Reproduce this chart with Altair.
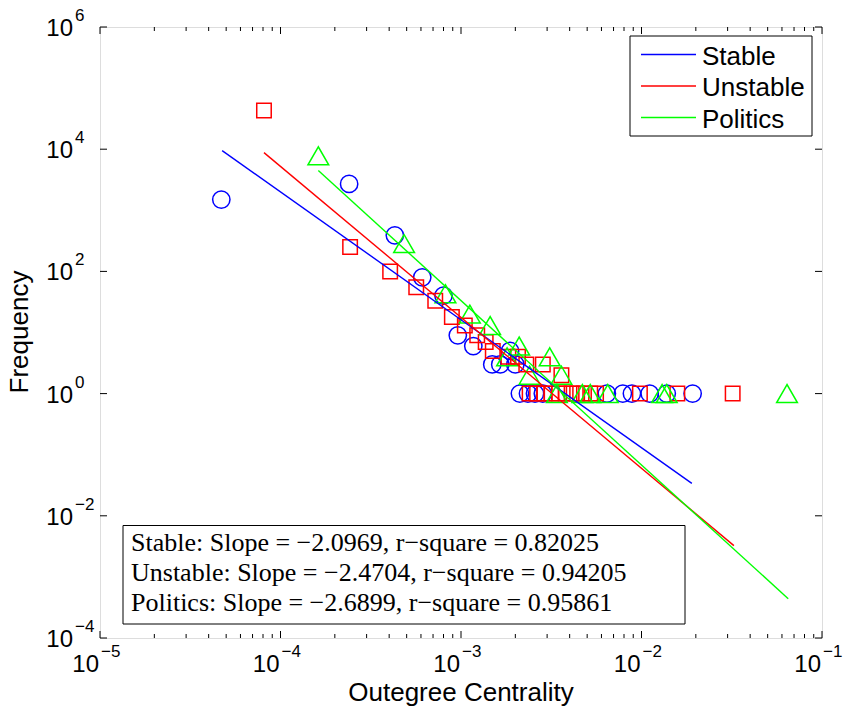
import altair as alt
import pandas as pd

# ---------------- data ----------------
series_names = ["Stable", "Unstable", "Politics"]
series_colors = ["#0000FF", "#FF0000", "#00FF00"]

stable_x = [4.7e-5, 2.4e-4, 4.3e-4, 6.1e-4, 8.0e-4, 9.6e-4, 1.17e-3, 1.49e-3, 1.65e-3,
            1.87e-3, 2.0e-3, 2.12e-3, 2.35e-3, 2.57e-3, 2.84e-3, 6.43e-3, 7.88e-3,
            8.85e-3, 1.11e-2, 1.38e-2, 1.92e-2]
stable_y = [1500, 2700, 390, 80, 40, 9, 6, 3, 3, 5, 3, 1, 1, 1, 1, 1, 1, 1, 1, 1, 1]

unstable_x = [8.1e-5, 2.43e-4, 4.05e-4, 5.65e-4, 7.2e-4, 8.9e-4, 1.05e-3, 1.23e-3, 1.37e-3,
              1.5e-3, 1.83e-3, 2.07e-3, 2.3e-3, 2.84e-3, 3.6e-3,
              2.4e-3, 2.64e-3, 2.9e-3, 3.17e-3, 3.5e-3, 3.8e-3, 4.1e-3, 4.4e-3, 4.8e-3,
              5.2e-3, 5.6e-3, 9.8e-3, 1.58e-2, 3.2e-2]
unstable_y = [43000, 250, 100, 55, 33, 18, 13, 9, 7, 5, 4, 4, 3, 3, 2,
              1, 1, 1, 1, 1, 1, 1, 1, 1, 1, 1, 1, 1, 1]

politics_x = [1.62e-4, 4.84e-4, 8.2e-4, 1.12e-3, 1.45e-3, 1.8e-3, 2.1e-3, 2.4e-3, 3.1e-3,
              3.6e-3, 3.4e-3, 4.7e-3, 5.2e-3, 6.5e-3, 1.3e-2, 1.38e-2, 6.4e-2]
politics_y = [7800, 285, 43, 20, 13, 4, 6, 2, 4, 2, 1, 1, 1, 1, 1, 1, 1]

# fitted power-law lines (end points)
stable_fit_x = [4.75e-5, 1.9e-2]
stable_fit_y = [9500, 0.034]
unstable_fit_x = [8.1e-5, 3.25e-2]
unstable_fit_y = [8800, 0.00325]
politics_fit_x = [1.62e-4, 6.5e-2]
politics_fit_y = [4470, 0.00044]

fit_text = ["Stable: Slope = \u22122.0969, r\u2212square = 0.82025",
            "Unstable: Slope = \u22122.4704, r\u2212square = 0.94205",
            "Politics: Slope = \u22122.6899, r\u2212square = 0.95861"]

x_tick_values = [1e-5, 1e-4, 1e-3, 1e-2, 1e-1]
x_tick_exponents = ["\u22125", "\u22124", "\u22123", "\u22122", "\u22121"]
y_tick_values = [1e-4, 1e-2, 1e0, 1e2, 1e4, 1e6]
y_tick_exponents = ["\u22124", "\u22122", "0", "2", "4", "6"]
minor_mult = [2, 3, 4, 5, 6, 7, 8, 9]

# ---------------- layout ----------------
W, H = 722, 611
SANS = "Liberation Sans"
SERIF = "Liberation Serif"

xs = alt.Scale(type="log", domain=[1e-5, 1e-1], nice=False)
ys = alt.Scale(type="log", domain=[1e-4, 1e6], nice=False)

def X(f="x"):
    return alt.X(f"{f}:Q", scale=xs, axis=None)

def Y(f="y"):
    return alt.Y(f"{f}:Q", scale=ys, axis=None)

layers = []

# scatter points
shapes = ["circle", "square", "triangle-up"]
sizes = [300, 210, 430]
pts = [(stable_x, stable_y), (unstable_x, unstable_y), (politics_x, politics_y)]
for (px, py), shp, sz, col in zip(pts, shapes, sizes, series_colors):
    df = pd.DataFrame({"x": px, "y": py})
    layers.append(
        alt.Chart(df).mark_point(shape=shp, size=sz, filled=False, color=col,
                                 strokeWidth=1.5, opacity=1)
        .encode(x=X(), y=Y())
    )

# fit lines
fits = [(stable_fit_x, stable_fit_y), (unstable_fit_x, unstable_fit_y),
        (politics_fit_x, politics_fit_y)]
for (fx, fy), col in zip(fits, series_colors):
    df = pd.DataFrame({"x": fx, "y": fy})
    layers.append(
        alt.Chart(df).mark_line(color=col, strokeWidth=1.4).encode(x=X(), y=Y())
    )

# ticks (inward, on all four sides)
x_major = pd.DataFrame({"x": x_tick_values})
x_minor = pd.DataFrame({"x": [m * v for v in x_tick_values[:-1] for m in minor_mult]})
y_major = pd.DataFrame({"y": y_tick_values})
for df, ln in [(x_major, 7), (x_minor, 4)]:
    layers.append(alt.Chart(df).mark_rule(color="black", strokeWidth=1)
                  .encode(x=X(), y=alt.value(H), y2=alt.value(H - ln)))
    layers.append(alt.Chart(df).mark_rule(color="black", strokeWidth=1)
                  .encode(x=X(), y=alt.value(0), y2=alt.value(ln)))
layers.append(alt.Chart(y_major).mark_rule(color="black", strokeWidth=1)
              .encode(y=Y(), x=alt.value(0), x2=alt.value(7)))
layers.append(alt.Chart(y_major).mark_rule(color="black", strokeWidth=1)
              .encode(y=Y(), x=alt.value(W), x2=alt.value(W - 7)))

# tick labels: "10" + superscript exponent
xl = pd.DataFrame({"x": x_tick_values, "e": x_tick_exponents})
layers.append(alt.Chart(xl).mark_text(text="10", font=SANS, fontSize=24, align="right",
                                      baseline="alphabetic", dx=-1, color="black")
              .encode(x=X(), y=alt.value(645)))
layers.append(alt.Chart(xl).mark_text(font=SANS, fontSize=17, align="left",
                                      baseline="alphabetic", dx=1, color="black")
              .encode(x=X(), y=alt.value(630), text="e:N"))
yl = pd.DataFrame({"y": y_tick_values, "e": y_tick_exponents})
layers.append(alt.Chart(yl).mark_text(text="10", font=SANS, fontSize=24, align="right",
                                      baseline="alphabetic", dy=9, color="black")
              .encode(y=Y(), x=alt.value(-27)))
layers.append(alt.Chart(yl).mark_text(font=SANS, fontSize=17, align="left",
                                      baseline="alphabetic", dy=-6, color="black")
              .encode(y=Y(), x=alt.value(-25), text="e:N"))

one = pd.DataFrame({"k": [0]})
# axis titles
layers.append(alt.Chart(one).mark_text(text="Outegree Centrality", font=SANS, fontSize=26,
                                       align="center", baseline="alphabetic", color="black")
              .encode(x=alt.value(W / 2), y=alt.value(674)))
layers.append(alt.Chart(one).mark_text(text="Frequency", font=SANS, fontSize=26, angle=270,
                                       align="center", baseline="alphabetic", color="black")
              .encode(x=alt.value(-72), y=alt.value(305)))

# legend box
layers.append(alt.Chart(one).mark_rect(fill="white", stroke="black", strokeWidth=1)
              .encode(x=alt.value(530), x2=alt.value(712), y=alt.value(9), y2=alt.value(109)))
leg_y0, leg_dy = 27.5, 31.5
for i, (nm, col) in enumerate(zip(series_names, series_colors)):
    yy = leg_y0 + i * leg_dy
    layers.append(alt.Chart(one).mark_rule(color=col, strokeWidth=1.4)
                  .encode(x=alt.value(541), x2=alt.value(596), y=alt.value(yy)))
    layers.append(alt.Chart(one).mark_text(text=nm, font=SANS, fontSize=26, align="left",
                                           baseline="alphabetic", color="black")
                  .encode(x=alt.value(602), y=alt.value(yy + 10)))

# fit text box
layers.append(alt.Chart(one).mark_rect(fill="white", stroke="black", strokeWidth=1)
              .encode(x=alt.value(23), x2=alt.value(585), y=alt.value(498.5), y2=alt.value(597)))
for i, t in enumerate(fit_text):
    layers.append(alt.Chart(one).mark_text(text=t, font=SERIF, fontSize=26, align="left",
                                           baseline="alphabetic", color="black")
                  .encode(x=alt.value(31), y=alt.value(524 + i * 30)))

chart = (
    alt.layer(*layers)
    .properties(width=W, height=H,
                padding={"left": 100, "top": 27, "right": 26, "bottom": 75},
                autosize=alt.AutoSizeParams(type="none"))
    .configure_view(stroke="black", strokeWidth=1)
    .configure(background="white")
)

chart.save("out.html", embed_options={"renderer": "svg", "actions": False})
